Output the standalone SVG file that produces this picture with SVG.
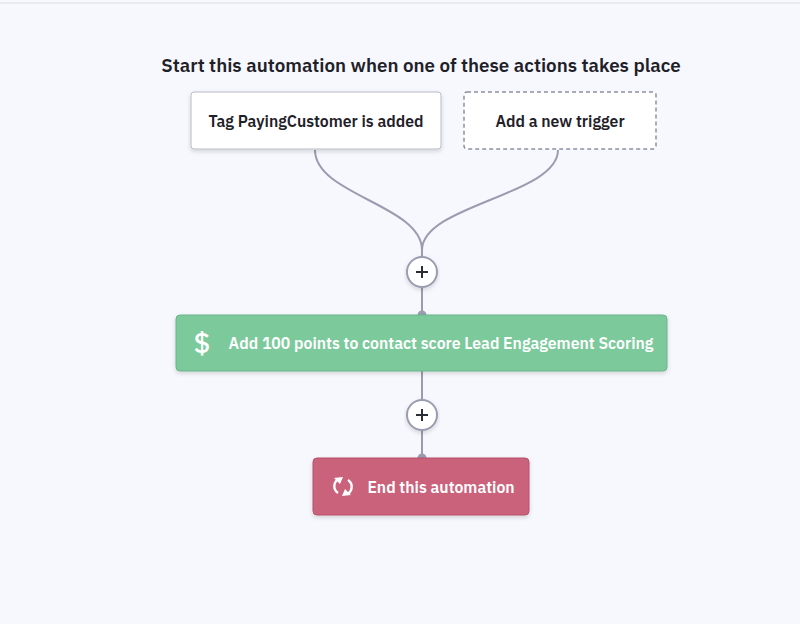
<svg xmlns="http://www.w3.org/2000/svg" width="800" height="624" viewBox="0 0 800 624">
<defs>
<style>
.t{font-family:"IBM Plex Sans","Open Sans","Liberation Sans",sans-serif;font-weight:600;font-size:15.8px;text-anchor:middle}
.c{fill:none;stroke:#9a9cb0;stroke-width:2}
</style>
<filter id="sh" x="-10%" y="-20%" width="120%" height="150%"><feDropShadow dx="0" dy="2" stdDeviation="2" flood-color="#000" flood-opacity="0.15"/></filter>
</defs>
<rect width="800" height="624" fill="#f7f8fd"/>
<line x1="0" y1="3" x2="800" y2="3" stroke="#dcdde3" stroke-width="1"/>
<text x="421" y="72" class="t" style="font-size:18.8px" fill="#1f2129">Start this automation when one of these actions takes place</text>
<g id="connectors">
<path class="c" d="M315 150 C315 195 422 205 422 250 L422 258"/>
<path class="c" d="M558 150 C558 195 422 205 422 250"/>
<line class="c" x1="422" y1="287" x2="422" y2="315"/>
<line class="c" x1="422" y1="371" x2="422" y2="400"/>
<line class="c" x1="422" y1="430" x2="422" y2="458"/>
<circle cx="422" cy="315" r="4.5" fill="#9a9cb0"/>
<circle cx="422" cy="458" r="4.5" fill="#9a9cb0"/>
</g>
<g id="trigger1">
<rect x="191" y="92" width="250" height="57" rx="3" fill="#fff" stroke="#b9bbc8" filter="url(#sh)"/>
<text x="316" y="127" class="t" fill="#1f2129">Tag PayingCustomer is added</text>
</g>
<g id="trigger2">
<rect x="464" y="92" width="192" height="57" rx="3" fill="#fff" stroke="#8e90a3" stroke-width="1.5" stroke-dasharray="4 3"/>
<text x="560" y="127" class="t" fill="#1f2129">Add a new trigger</text>
</g>
<g id="plus1">
<circle cx="422" cy="272" r="15" fill="#fff" stroke="#9a9cb0" stroke-width="2" filter="url(#sh)"/>
<path d="M416 272 H428 M422 266 V278" stroke="#2b2d36" stroke-width="2"/>
</g>
<g id="action">
<rect x="176" y="315" width="491" height="56" rx="4" fill="#7cc99c" stroke="#6ab58a" filter="url(#sh)"/>
<text x="202" y="353" class="t" style="font-size:28px;font-weight:500" fill="#fff">$</text>
<text x="441" y="349" class="t" fill="#fff">Add 100 points to contact score Lead Engagement Scoring</text>
</g>
<g id="plus2">
<circle cx="422" cy="415" r="15" fill="#fff" stroke="#9a9cb0" stroke-width="2" filter="url(#sh)"/>
<path d="M416 415 H428 M422 409 V421" stroke="#2b2d36" stroke-width="2"/>
</g>
<g id="end">
<rect x="313" y="458" width="216" height="57" rx="4" fill="#cb627b" stroke="#b85169" filter="url(#sh)"/>
<g fill="none" stroke="#fff" stroke-width="2.4">
<path d="M338 493 A8 8 0 0 1 339 479"/>
<path d="M348 480 A8 8 0 0 1 347 494"/>
</g>
<path d="M334 478 L343 477 L340 484 Z M351 495 L342 496 L345 489 Z" fill="#fff"/>
<text x="441" y="493" class="t" fill="#fff">End this automation</text>
</g>
</svg>
